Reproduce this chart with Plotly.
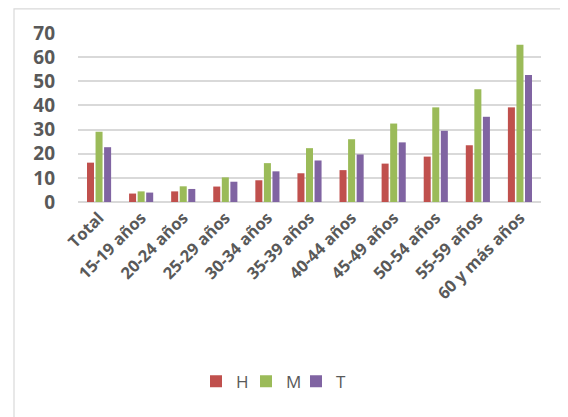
import plotly.graph_objects as go

categories = ["Total", "15-19 años", "20-24 años", "25-29 años", "30-34 años",
              "35-39 años", "40-44 años", "45-49 años", "50-54 años",
              "55-59 años", "60 y más años"]
H = [16.3, 3.5, 4.4, 6.4, 9.0, 11.9, 13.2, 15.9, 18.8, 23.5, 39.2]
M = [29.1, 4.4, 6.5, 10.2, 16.1, 22.3, 26.0, 32.5, 39.2, 46.7, 65.1]
T = [22.7, 3.9, 5.4, 8.4, 12.7, 17.2, 19.7, 24.7, 29.5, 35.3, 52.6]
y_ticks = [0, 10, 20, 30, 40, 50, 60, 70]

series = [("H", H, "#C0504D"), ("M", M, "#9BBB59"), ("T", T, "#8064A2")]

fig = go.Figure()
for name, vals, col in series:
    fig.add_trace(go.Bar(x=categories, y=vals, name=name,
                         marker=dict(color=col, line=dict(width=0))))

OFF = 8  # browser body margin
W, Hh = 568 - OFF, 417 - OFF
l, r, t, b = 78 - OFF, 27, 33 - OFF, 215
pw = W - l - r
ph = Hh - t - b
base = 202 - OFF  # y pixel of zero line in figure coords

fig.update_layout(
    width=W, height=Hh,
    margin=dict(l=l, r=r, t=t, b=b, autoexpand=False),
    paper_bgcolor="white", plot_bgcolor="white",
    barmode="group", bargap=0.39, bargroupgap=0.18,
    font=dict(family="Open Sans", color="#595959"),
    showlegend=True,
    legend=dict(orientation="h", x=(196 - OFF - l) / pw, xanchor="left",
                y=(base - (381.7 - OFF)) / ph, yanchor="middle",
                font=dict(size=17, color="#595959"), itemwidth=30,
                entrywidth=5, entrywidthmode="pixels",
                bgcolor="rgba(0,0,0,0)"),
    xaxis=dict(tickangle=-45, tickfont=dict(size=16.5, color="#595959", weight="bold"),
               showgrid=False, showline=False, ticks="", ticklabelstandoff=2),
    yaxis=dict(range=[0, 70], tickvals=y_ticks, showgrid=True, gridcolor="#D9D9D9",
               gridwidth=1.5, zeroline=True, zerolinecolor="#D9D9D9", zerolinewidth=1.5,
               showline=False, ticks="", ticklabelstandoff=22,
               tickfont=dict(size=19, color="#595959", weight="bold")),
    shapes=[dict(type="rect", xref="paper", yref="paper",
                 x0=(14 - OFF - l) / pw, x1=(W + 20 - l) / pw,
                 y0=(base - (Hh + 20)) / ph, y1=1 + (t - 0.8) / ph,
                 line=dict(color="#D9D9D9", width=1.2), fillcolor="rgba(0,0,0,0)",
                 layer="below")],
)

fig.write_html("out.html")
